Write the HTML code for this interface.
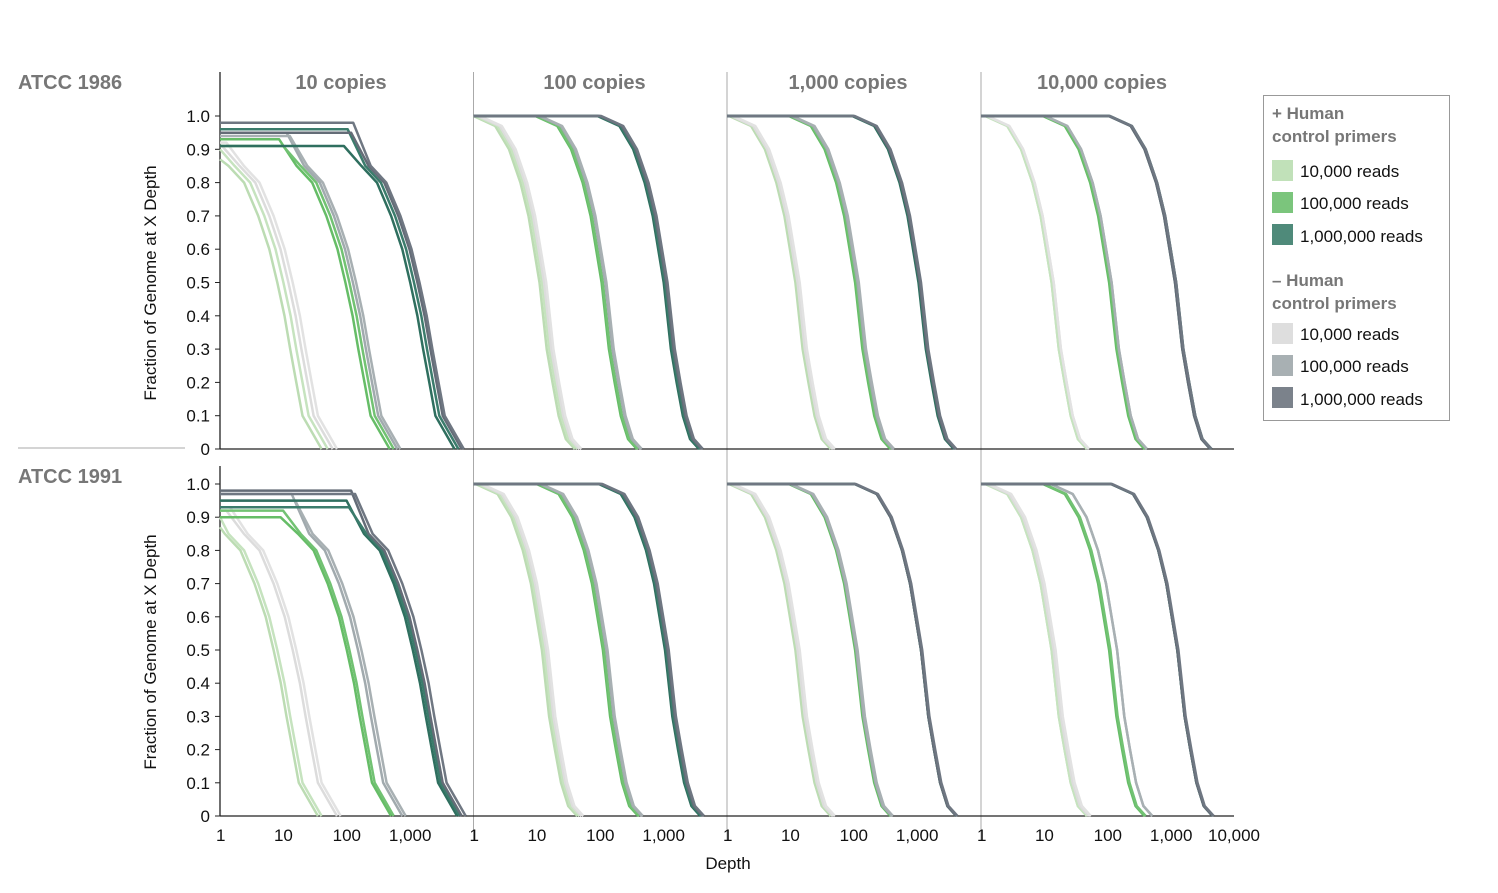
<!DOCTYPE html>
<html><head><meta charset="utf-8"><style>
body{margin:0;background:#fff;font-family:"Liberation Sans",sans-serif}
svg{display:block}
</style></head><body>
<svg id="chart" width="1498" height="893" xmlns="http://www.w3.org/2000/svg" font-family="Liberation Sans, sans-serif">
<g id="frame"></g><g id="curves"></g><g id="legend">
<rect x="1263.5" y="95.5" width="186" height="325" fill="#fff" stroke="#999"/>
<text x="1272" y="119" font-size="17" font-weight="bold" fill="#777">+ Human</text>
<text x="1272" y="142" font-size="17" font-weight="bold" fill="#777">control primers</text>
<g><rect x="1272" y="160" width="21" height="21" fill="#c1e1b9"/><text x="1300" y="177" font-size="17" fill="#111">10,000 reads</text></g>
<g><rect x="1272" y="192" width="21" height="21" fill="#7bc57c"/><text x="1300" y="209" font-size="17" fill="#111">100,000 reads</text></g>
<g><rect x="1272" y="224" width="21" height="21" fill="#4f8a7a"/><text x="1300" y="242" font-size="17" fill="#111">1,000,000 reads</text></g>
<text x="1272" y="286" font-size="17" font-weight="bold" fill="#777">– Human</text>
<text x="1272" y="309" font-size="17" font-weight="bold" fill="#777">control primers</text>
<g><rect x="1272" y="323" width="21" height="21" fill="#dedede"/><text x="1300" y="340" font-size="17" fill="#111">10,000 reads</text></g>
<g><rect x="1272" y="355" width="21" height="21" fill="#a8b0b3"/><text x="1300" y="372" font-size="17" fill="#111">100,000 reads</text></g>
<g><rect x="1272" y="387" width="21" height="21" fill="#7b828b"/><text x="1300" y="405" font-size="17" fill="#111">1,000,000 reads</text></g>
</g>
</svg>
<script>
const panelTitles=["10 copies","100 copies","1,000 copies","10,000 copies"];
const rowTitles=["ATCC 1986","ATCC 1991"];
const yTicks=[0,0.1,0.2,0.3,0.4,0.5,0.6,0.7,0.8,0.9,1.0];
const xTicks=[1,10,100,1000];
const xTickLabels=["1","10","100","1,000"];
// shared curve shapes: depth relative to median vs fraction
const shapeRel=[0.09,0.2,0.33,0.5,0.67,1.0,1.3,1.6,2.0,2.6,3.6];
const shapeFrac=[1.0,0.97,0.9,0.8,0.7,0.5,0.3,0.2,0.1,0.03,0];
const shape10Rel=[0.09,0.17,0.3,0.5,0.75,1.0,1.3,1.6,2.0,2.5,5.0];
const shape10Frac=[1.0,0.85,0.8,0.7,0.6,0.5,0.4,0.3,0.2,0.1,0];
// curve order: lightG a,b, lightGrey a,b, midG a,b, grey a,b, darkG a,b, darkGrey a,b
const medTop1=[8,10,12,14,95,110,125,140,1000,1150,1300,1400];
const startTop1=[0.87,0.9,0.91,0.92,0.93,0.91,0.95,0.94,0.91,0.96,0.95,0.98];
const medTop2=[11,12,13,14,105,110,120,125,1000,1050,1100,1150];
const medTop3=[12,13,13,14,105,110,115,120,1050,1100,1100,1150];
const medTop4=[13,13,14,14,105,110,115,115,1200,1150,1150,1200];
const medBot1=[7,8,14,16,100,110,150,170,1100,1200,1300,1500];
const startBot1=[0.87,0.9,0.92,0.93,0.9,0.92,0.97,0.95,0.95,0.93,0.98,0.97];
const medBot2=[12,13,14,15,110,115,125,130,1050,1100,1150,1200];
const medBot3=[12,13,13,14,105,110,110,115,1150,1150,1150,1200];
const medBot4=[13,13,14,15,105,110,140,140,1250,1250,1250,1300];
const fullStart=[1,1,1,1,1,1,1,1,1,1,1,1];
const colors=["#bcdcb3","#c6e3bf","#dcdcdc","#e2e2e2","#66bd67","#72c273","#a1aaae","#a8b0b3","#2f6f5f","#3b7c6c","#646c77","#6f7782"];
const panels=[[medTop1,startTop1],[medTop2,fullStart],[medTop3,fullStart],[medTop4,fullStart],
[medBot1,startBot1],[medBot2,fullStart],[medBot3,fullStart],[medBot4,fullStart]];
const NS="http://www.w3.org/2000/svg";
const frame=document.getElementById('frame'),cg=document.getElementById('curves');
const panelX0=[220,473.5,727,981],decade=63.4;
const rowY1=[116,484],rowY0=[449,816];
function xs(p,d){return panelX0[p]+decade*Math.log10(d);}
function ys(r,f){return rowY0[r]-(rowY0[r]-rowY1[r])*f;}
function mk(tag,attrs,parent,text){const e=document.createElementNS(NS,tag);for(const k in attrs)e.setAttribute(k,attrs[k]);if(text!=null)e.textContent=text;parent.appendChild(e);return e;}
for(let p=1;p<4;p++){const l=mk('line',{x1:panelX0[p],x2:panelX0[p],y1:72,y2:841,stroke:'#aaa','stroke-width':1},frame);

}
const hs=mk('line',{x1:18,x2:185,y1:448,y2:448,stroke:'#aaa'},frame);


for(let r=0;r<2;r++){
 const rt=mk('text',{x:18,y:r?483:89,'font-size':20,'font-weight':'bold',fill:'#777'},frame,rowTitles[r]);
 
 
 const ya=mk('line',{x1:220,x2:220,y1:r?466:72,y2:rowY0[r],stroke:'#222','stroke-width':1.3},frame);
 
 
 const xa=mk('line',{x1:220,x2:1234,y1:rowY0[r],y2:rowY0[r],stroke:'#222','stroke-width':1.3},frame);
 
 
 yTicks.forEach(v=>{const y=ys(r,v);
  const t=mk('line',{x1:215,x2:220,y1:y,y2:y,stroke:'#222'},frame);
  
  
  const lb=mk('text',{x:210,y:y+6,'font-size':17,'text-anchor':'end',fill:'#111'},frame,v===0?'0':v.toFixed(1));
  
  });
 const yt=mk('text',{x:156,y:r?652:283,'font-size':17,'text-anchor':'middle',fill:'#111',transform:`rotate(-90 156 ${r?652:283})`},frame,'Fraction of Genome  at X Depth');
 
 
}
for(let p=0;p<4;p++){
 const tt=mk('text',{x:panelX0[p]+121,y:89,'font-size':20,'font-weight':'bold',fill:'#777','text-anchor':'middle'},frame,panelTitles[p]);
 
 
 xTicks.forEach((d,i)=>{const x=xs(p,d);
  const lb=mk('text',{x:i===0?x-4:x,y:841,'font-size':17,'text-anchor':i===0?'start':'middle',fill:'#111'},frame,xTickLabels[i]);
  
  });
}
const last=mk('text',{x:1234,y:841,'font-size':17,'text-anchor':'middle',fill:'#111'},frame,'10,000');


const xt=mk('text',{x:728,y:869,'font-size':17,'text-anchor':'middle',fill:'#111'},frame,'Depth');


panels.forEach(([meds,starts],i)=>{
 const r=i<4?0:1,p=i%4;
 const rel=p===0?shape10Rel:shapeRel, fr=p===0?shape10Frac:shapeFrac;
 meds.forEach((m,c)=>{
  const st=starts[c];const pts=[[1,st]];
  for(let k=0;k<rel.length;k++){const d=m*rel[k];if(d<=1)continue;pts.push([d,Math.min(fr[k],st)]);}
  let s='';pts.forEach(([d,f],k)=>{s+=(k?'L':'M')+xs(p,d).toFixed(1)+','+ys(r,f).toFixed(1);});
  const path=mk('path',{d:s,fill:'none',stroke:colors[c],'stroke-width':2.5,'stroke-linejoin':'round'},cg);
  
  
 });
});
</script>
</body></html>
